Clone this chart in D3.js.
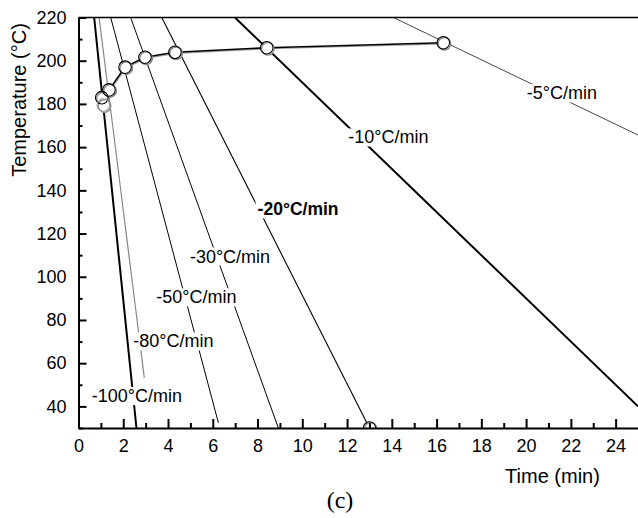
<!DOCTYPE html>
<html>
<head>
<meta charset="utf-8">
<script src="https://cdn.jsdelivr.net/npm/d3@7"></script>
<style>
  body { margin: 0; background: #fff; }
  svg text { font-family: "Liberation Sans", Arial, sans-serif; fill: #000; }
</style>
</head>
<body>
<div id="chart"></div>
<script>
// data
// each cooling line starts at 220 °C at a given time and ends at (endTime, endTemp)
const RATE_LABELS = ["-5°C/min", "-10°C/min", "-20°C/min", "-30°C/min", "-50°C/min", "-80°C/min", "-100°C/min"];
const START_TIMES = [14.07, 6.99, 3.72, 2.33, 1.44, 0.92, 0.70];
const END_TIMES = [25.0, 25.0, 13.0, 8.93, 6.25, 2.94, 2.59];
const END_TEMPS = [165.6, 40.0, 30, 30, 32.4, 53.2, 30];
// where each rate label sits, in data units
const LABEL_TIMES = [21.6, 13.85, 9.81, 6.77, 5.27, 4.24, 2.61];
const LABEL_TEMPS = [185.1, 164.7, 131.4, 109.6, 90.7, 70.3, 45.0];

// crystallisation onset points (connected)
const ONSET_TIMES = [1.04, 1.36, 2.08, 2.97, 4.31, 8.41, 16.3];
const ONSET_TEMPS = [182.9, 186.5, 197.0, 201.6, 203.9, 206.0, 208.3];
// loose points
const EXTRA_TIMES = [1.11, 13.0];
const EXTRA_TEMPS = [179.5, 30];

const X_MAJOR = [0, 2, 4, 6, 8, 10, 12, 14, 16, 18, 20, 22, 24];
const X_MINOR = [1, 3, 5, 7, 9, 11, 13, 15, 17, 19, 21, 23];
const Y_MAJOR = [40, 60, 80, 100, 120, 140, 160, 180, 200, 220];
const Y_MINOR = [30, 50, 70, 90, 110, 130, 150, 170, 190, 210];

const FRAME_WIDTH = 638;
const FRAME_HEIGHT = 518;
const MARGINS = {left: 78.5, top: 17.5, bottom: 90};
const PX_PER_MIN = 22.38;

const FRAME = d3.select("#chart")
                .append("svg")
                  .attr("width", FRAME_WIDTH)
                  .attr("height", FRAME_HEIGHT);

// scales
const X_SCALE = d3.scaleLinear()
                  .domain([0, 26])
                  .range([MARGINS.left, MARGINS.left + 26 * PX_PER_MIN]);
const Y_SCALE = d3.scaleLinear()
                  .domain([30, 220])
                  .range([428, MARGINS.top]);

// clip to plot area
FRAME.append("clipPath").attr("id", "plot-clip")
  .append("rect")
    .attr("x", X_SCALE(0))
    .attr("y", Y_SCALE(220))
    .attr("width", FRAME_WIDTH - X_SCALE(0))
    .attr("height", Y_SCALE(30) - Y_SCALE(220));

const PLOT = FRAME.append("g").attr("clip-path", "url(#plot-clip)");

// line styles per rate
const STROKES = ["#333", "#000", "#000", "#000", "#000", "#888", "#000"];
const WIDTHS = [0.9, 2, 1.1, 1, 1, 1.2, 2];

// cooling lines
const lines = RATE_LABELS.map((lab, i) => ({
  label: lab,
  t0: START_TIMES[i], t1: END_TIMES[i], T1: END_TEMPS[i],
  lt: LABEL_TIMES[i], lT: LABEL_TEMPS[i],
  stroke: STROKES[i], width: WIDTHS[i], bold: lab === "-20°C/min"
}));

PLOT.selectAll(".rate-line")
  .data(lines)
  .enter()
  .append("line")
    .attr("class", "rate-line")
    .attr("x1", d => X_SCALE(d.t0))
    .attr("y1", Y_SCALE(220))
    .attr("x2", d => X_SCALE(d.t1))
    .attr("y2", d => Y_SCALE(d.T1))
    .attr("stroke", d => d.stroke)
    .attr("stroke-width", d => d.width);

// connecting line of onset points
const onset = ONSET_TIMES.map((t, i) => ({t: t, T: ONSET_TEMPS[i]}));
const lineGen = d3.line().x(d => X_SCALE(d.t)).y(d => Y_SCALE(d.T));
PLOT.append("path")
  .datum(onset)
  .attr("d", lineGen)
  .attr("transform", "translate(0.8,1)")
  .attr("fill", "none")
  .attr("stroke", "#999")
  .attr("stroke-width", 1.2);
PLOT.append("path")
  .datum(onset)
  .attr("d", lineGen)
  .attr("fill", "none")
  .attr("stroke", "#000")
  .attr("stroke-width", 1.5);

// circles (gray shadow ring + black ring)
const points = onset.concat(EXTRA_TIMES.map((t, i) => ({t: t, T: EXTRA_TEMPS[i], faint: i === 0})));
PLOT.selectAll(".pt-shadow")
  .data(points)
  .enter()
  .append("circle")
    .attr("class", "pt-shadow")
    .attr("cx", d => X_SCALE(d.t) + 1.2)
    .attr("cy", d => Y_SCALE(d.T) + 1)
    .attr("r", 6.3)
    .attr("fill", "#fff")
    .attr("stroke", "#888")
    .attr("stroke-width", 1.3);
PLOT.selectAll(".pt")
  .data(points)
  .enter()
  .append("circle")
    .attr("class", "pt")
    .attr("cx", d => X_SCALE(d.t))
    .attr("cy", d => Y_SCALE(d.T))
    .attr("r", 6.3)
    .attr("fill", "none")
    .attr("stroke", d => d.faint ? "#999" : "#000")
    .attr("stroke-width", 1.1);

// rate labels with white patch behind (gap in the line)
const labelG = FRAME.selectAll(".rate-label")
  .data(lines)
  .enter()
  .append("g")
    .attr("class", "rate-label");
labelG.append("rect").attr("fill", "#fff");
labelG.append("text")
    .attr("x", d => X_SCALE(d.lt))
    .attr("y", d => Y_SCALE(d.lT) + 6.5)
    .attr("text-anchor", "middle")
    .attr("font-size", d => d.bold ? "17.5px" : "18px")
    .attr("font-weight", d => d.bold ? "bold" : "normal")
    .text(d => d.label);
labelG.each(function() {
  const g = d3.select(this);
  const bb = g.select("text").node().getBBox();
  g.select("rect")
    .attr("x", bb.x - 2)
    .attr("y", bb.y + 1)
    .attr("width", bb.width + 4)
    .attr("height", bb.height - 2);
});

// top frame line
FRAME.append("line")
  .attr("x1", X_SCALE(0)).attr("x2", FRAME_WIDTH)
  .attr("y1", Y_SCALE(220)).attr("y2", Y_SCALE(220))
  .attr("stroke", "#000").attr("stroke-width", 1.5);

// x axis: minor then major ticks
FRAME.append("g")
  .attr("transform", "translate(0," + Y_SCALE(30) + ")")
  .call(d3.axisBottom(X_SCALE).tickValues(X_MINOR).tickSizeInner(-5).tickSizeOuter(0).tickFormat(""))
  .call(g => g.select(".domain").remove())
  .selectAll("line").attr("stroke-width", 2);
const xAxis = FRAME.append("g")
  .attr("transform", "translate(0," + Y_SCALE(30) + ")")
  .call(d3.axisBottom(X_SCALE).tickValues(X_MAJOR).tickSizeInner(-9).tickSizeOuter(0).tickPadding(11));
xAxis.select(".domain").attr("stroke-width", 2);
xAxis.selectAll("line").attr("stroke-width", 2);
xAxis.selectAll("text").attr("font-size", "18px").attr("font-family", "Liberation Sans, Arial, sans-serif");

// y axis
FRAME.append("g")
  .attr("transform", "translate(" + X_SCALE(0) + ",0)")
  .call(d3.axisLeft(Y_SCALE).tickValues(Y_MINOR).tickSizeInner(-4).tickSizeOuter(0).tickFormat(""))
  .call(g => g.select(".domain").remove())
  .selectAll("line").attr("stroke-width", 2);
const yAxis = FRAME.append("g")
  .attr("transform", "translate(" + X_SCALE(0) + ",0)")
  .call(d3.axisLeft(Y_SCALE).tickValues(Y_MAJOR).tickSizeInner(-8).tickSizeOuter(0).tickPadding(12));
yAxis.select(".domain").attr("stroke-width", 2);
yAxis.selectAll("line").attr("stroke-width", 2);
yAxis.selectAll("text").attr("font-size", "18px").attr("font-family", "Liberation Sans, Arial, sans-serif");

// axis titles
FRAME.append("text")
  .attr("transform", "translate(26,100) rotate(-90)")
  .attr("text-anchor", "middle")
  .attr("font-size", "20px")
  .text("Temperature (°C)");
FRAME.append("text")
  .attr("x", 552.5)
  .attr("y", 483)
  .attr("text-anchor", "middle")
  .attr("font-size", "20px")
  .text("Time (min)");

// panel tag
FRAME.append("text")
  .attr("x", 340)
  .attr("y", 508)
  .attr("text-anchor", "middle")
  .attr("font-size", "24px")
  .style("font-family", "'Liberation Serif', 'Times New Roman', serif")
  .text("(c)");
</script>
</body>
</html>
